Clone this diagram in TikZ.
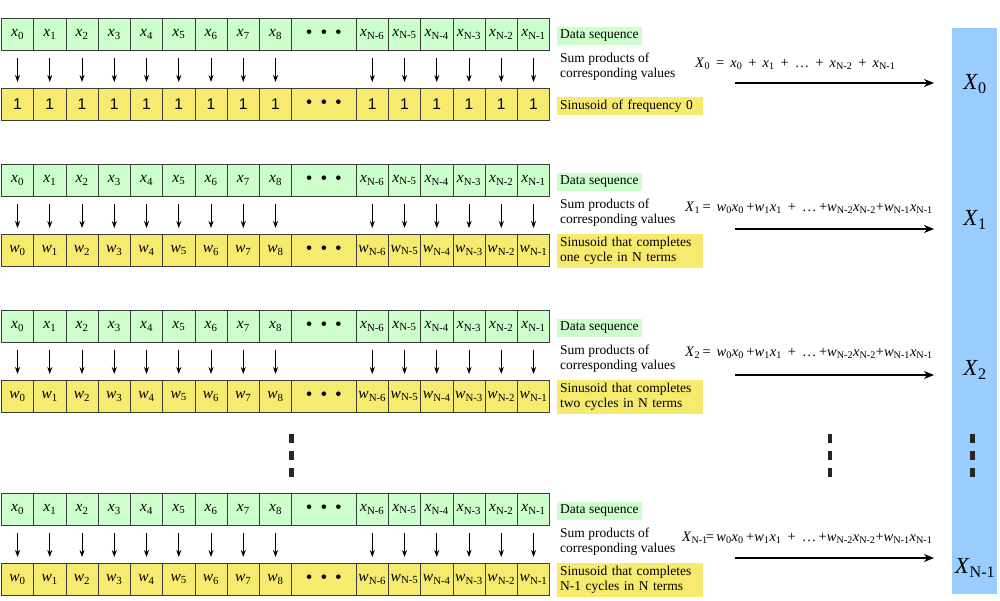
\documentclass[tikz,border=0pt]{standalone}
\usepackage{fontspec}
\setmainfont{Liberation Serif}
\newfontfamily\onefont{Liberation Sans}
\usetikzlibrary{arrows.meta}
\definecolor{dgreen}{RGB}{204,255,204}
\definecolor{dyellow}{RGB}{246,235,110}
\definecolor{dblue}{RGB}{153,204,255}
\definecolor{edge}{RGB}{60,60,60}
\newcommand\sbs[1]{\textsubscript{#1}}
\newcommand\tdots{{\fontsize{19}{20}\selectfont\textbullet\hspace{8pt}\textbullet\hspace{8pt}\textbullet}}
\tikzset{
  cellbase/.style={draw=edge, line width=0.8pt, anchor=north west, inner sep=0pt,
    minimum width=32.25pt, minimum height=32pt, font=\fontsize{15.5}{16}\selectfont},
  dcell/.style={cellbase, fill=dgreen},
  wcell/.style={cellbase, fill=dyellow},
  downarr/.style={-{Stealth[length=7pt,width=5pt]}, line width=0.8pt, black, shorten <=7pt, shorten >=6pt},
  sumarr/.style={-{Stealth[length=10pt,width=8pt]}, line width=1.3pt, black},
  glabel/.style={fill=dgreen, anchor=west, inner sep=3pt, font=\fontsize{13.5}{15}\selectfont},
  ylabel/.style={fill=dyellow, anchor=west, inner sep=3pt, text width=140pt, align=left, font=\fontsize{13.5}{15}\selectfont},
  slabel/.style={anchor=west, inner sep=0pt, align=left, font=\fontsize{13.5}{15}\selectfont},
  formula/.style={anchor=west, inner sep=0pt, font=\fontsize{14.5}{15}\selectfont},
  bigX/.style={inner sep=0pt, font=\fontsize{23}{25}\selectfont},
  vdot/.style={fill=black!85, minimum width=4.5pt, minimum height=9pt, inner sep=0pt},
}
\begin{document}
\begin{tikzpicture}[x=1pt,y=-1pt]
\useasboundingbox (0,0) rectangle (1000,600);
% result column
\node[fill=dblue, anchor=north west, minimum width=45pt, minimum height=566pt, inner sep=0pt] (res) at (952,28) {};
\foreach \r/\t in {1/18, 2/164, 3/310, 4/493}{
  \pgfmathsetmacro{\b}{\t+70}
  % data row
  \foreach \k in {0,...,8}{
    \node[dcell] (d\r-\k) at ({1+\k*32.25},\t) {\textit{x}\sbs{\k}};
    \node[wcell] (w\r-\k) at ({1+\k*32.25},\b) {\ifnum\r=1 {\onefont 1}\else\textit{w}\sbs{\k}\fi};
    \draw[downarr] (d\r-\k) -- (w\r-\k);
  }
  \node[dcell, minimum width=64.5pt] (d\r-dots) at (291.25,\t) {\tdots};
  \node[wcell, minimum width=64.5pt] (w\r-dots) at (291.25,\b) {\tdots};
  \foreach \j/\l in {0/6,1/5,2/4,3/3,4/2,5/1}{
    \node[dcell] (d\r-n\l) at ({1+(11+\j)*32.25},\t) {\textit{x}\sbs{N-\l}};
    \node[wcell] (w\r-n\l) at ({1+(11+\j)*32.25},\b) {\ifnum\r=1 {\onefont 1}\else\textit{w}\sbs{N-\l}\fi};
    \draw[downarr] (d\r-n\l) -- (w\r-n\l);
  }
  \node[glabel] (lab\r-d) at (557,\t+18) {Data sequence};
  \node[slabel] (lab\r-s) at (560,\t+49) {Sum products of\\corresponding values};
  \coordinate (a\r-s) at (735,\t+65);
  \coordinate (a\r-e) at (934,\t+65);
  \draw[sumarr] (a\r-s) -- (a\r-e);
}
\node[ylabel] (lab1-y) at (557,106) {Sinusoid of frequency 0};
\node[ylabel] (lab2-y) at (557,251) {Sinusoid that completes one cycle in N terms};
\node[ylabel] (lab3-y) at (557,397) {Sinusoid that completes two cycles in N terms};
\node[ylabel] (lab4-y) at (557,580) {Sinusoid that completes N-1 cycles in N terms};
% formulas
\node[formula] (f1) at (695,64) {\textit{X}\sbs{0}\, = \,\textit{x}\sbs{0}\, + \,\textit{x}\sbs{1}\, + \,\dots\, + \,\textit{x}\sbs{N-2}\, + \,\textit{x}\sbs{N-1}};
\node[formula] (f2) at (685,208) {\textit{X}\sbs{1}\,= \,\textit{w}\sbs{0}\textit{x}\sbs{0}\,+\textit{w}\sbs{1}\textit{x}\sbs{1}\, + \,\dots\,+\textit{w}\sbs{N-2}\textit{x}\sbs{N-2}+\textit{w}\sbs{N-1}\textit{x}\sbs{N-1}};
\node[formula] (f3) at (685,353) {\textit{X}\sbs{2}\,= \,\textit{w}\sbs{0}\textit{x}\sbs{0}\,+\textit{w}\sbs{1}\textit{x}\sbs{1}\, + \,\dots\,+\textit{w}\sbs{N-2}\textit{x}\sbs{N-2}+\textit{w}\sbs{N-1}\textit{x}\sbs{N-1}};
\node[formula] (f4) at (682,538) {\textit{X}\sbs{N-1}\kern-2pt=\,\textit{w}\sbs{0}\textit{x}\sbs{0}\,+\textit{w}\sbs{1}\textit{x}\sbs{1}\, + \,\dots\,+\textit{w}\sbs{N-2}\textit{x}\sbs{N-2}+\textit{w}\sbs{N-1}\textit{x}\sbs{N-1}};
% result labels
\node[bigX] (X0) at (975,84) {\textit{X}\sbs{0}};
\node[bigX] (X1) at (975,220) {\textit{X}\sbs{1}};
\node[bigX] (X2) at (975,370) {\textit{X}\sbs{2}};
\node[bigX] (XN) at (975,568) {\textit{X}\sbs{N-1}};
% vertical ellipses
\foreach \x/\n in {291.5/a, 830/b, 972.5/c}{
  \foreach \y/\m in {438/1, 455/2, 472/3}{
    \node[vdot] (v\n\m) at (\x,\y) {};
  }
}
\end{tikzpicture}
\end{document}
